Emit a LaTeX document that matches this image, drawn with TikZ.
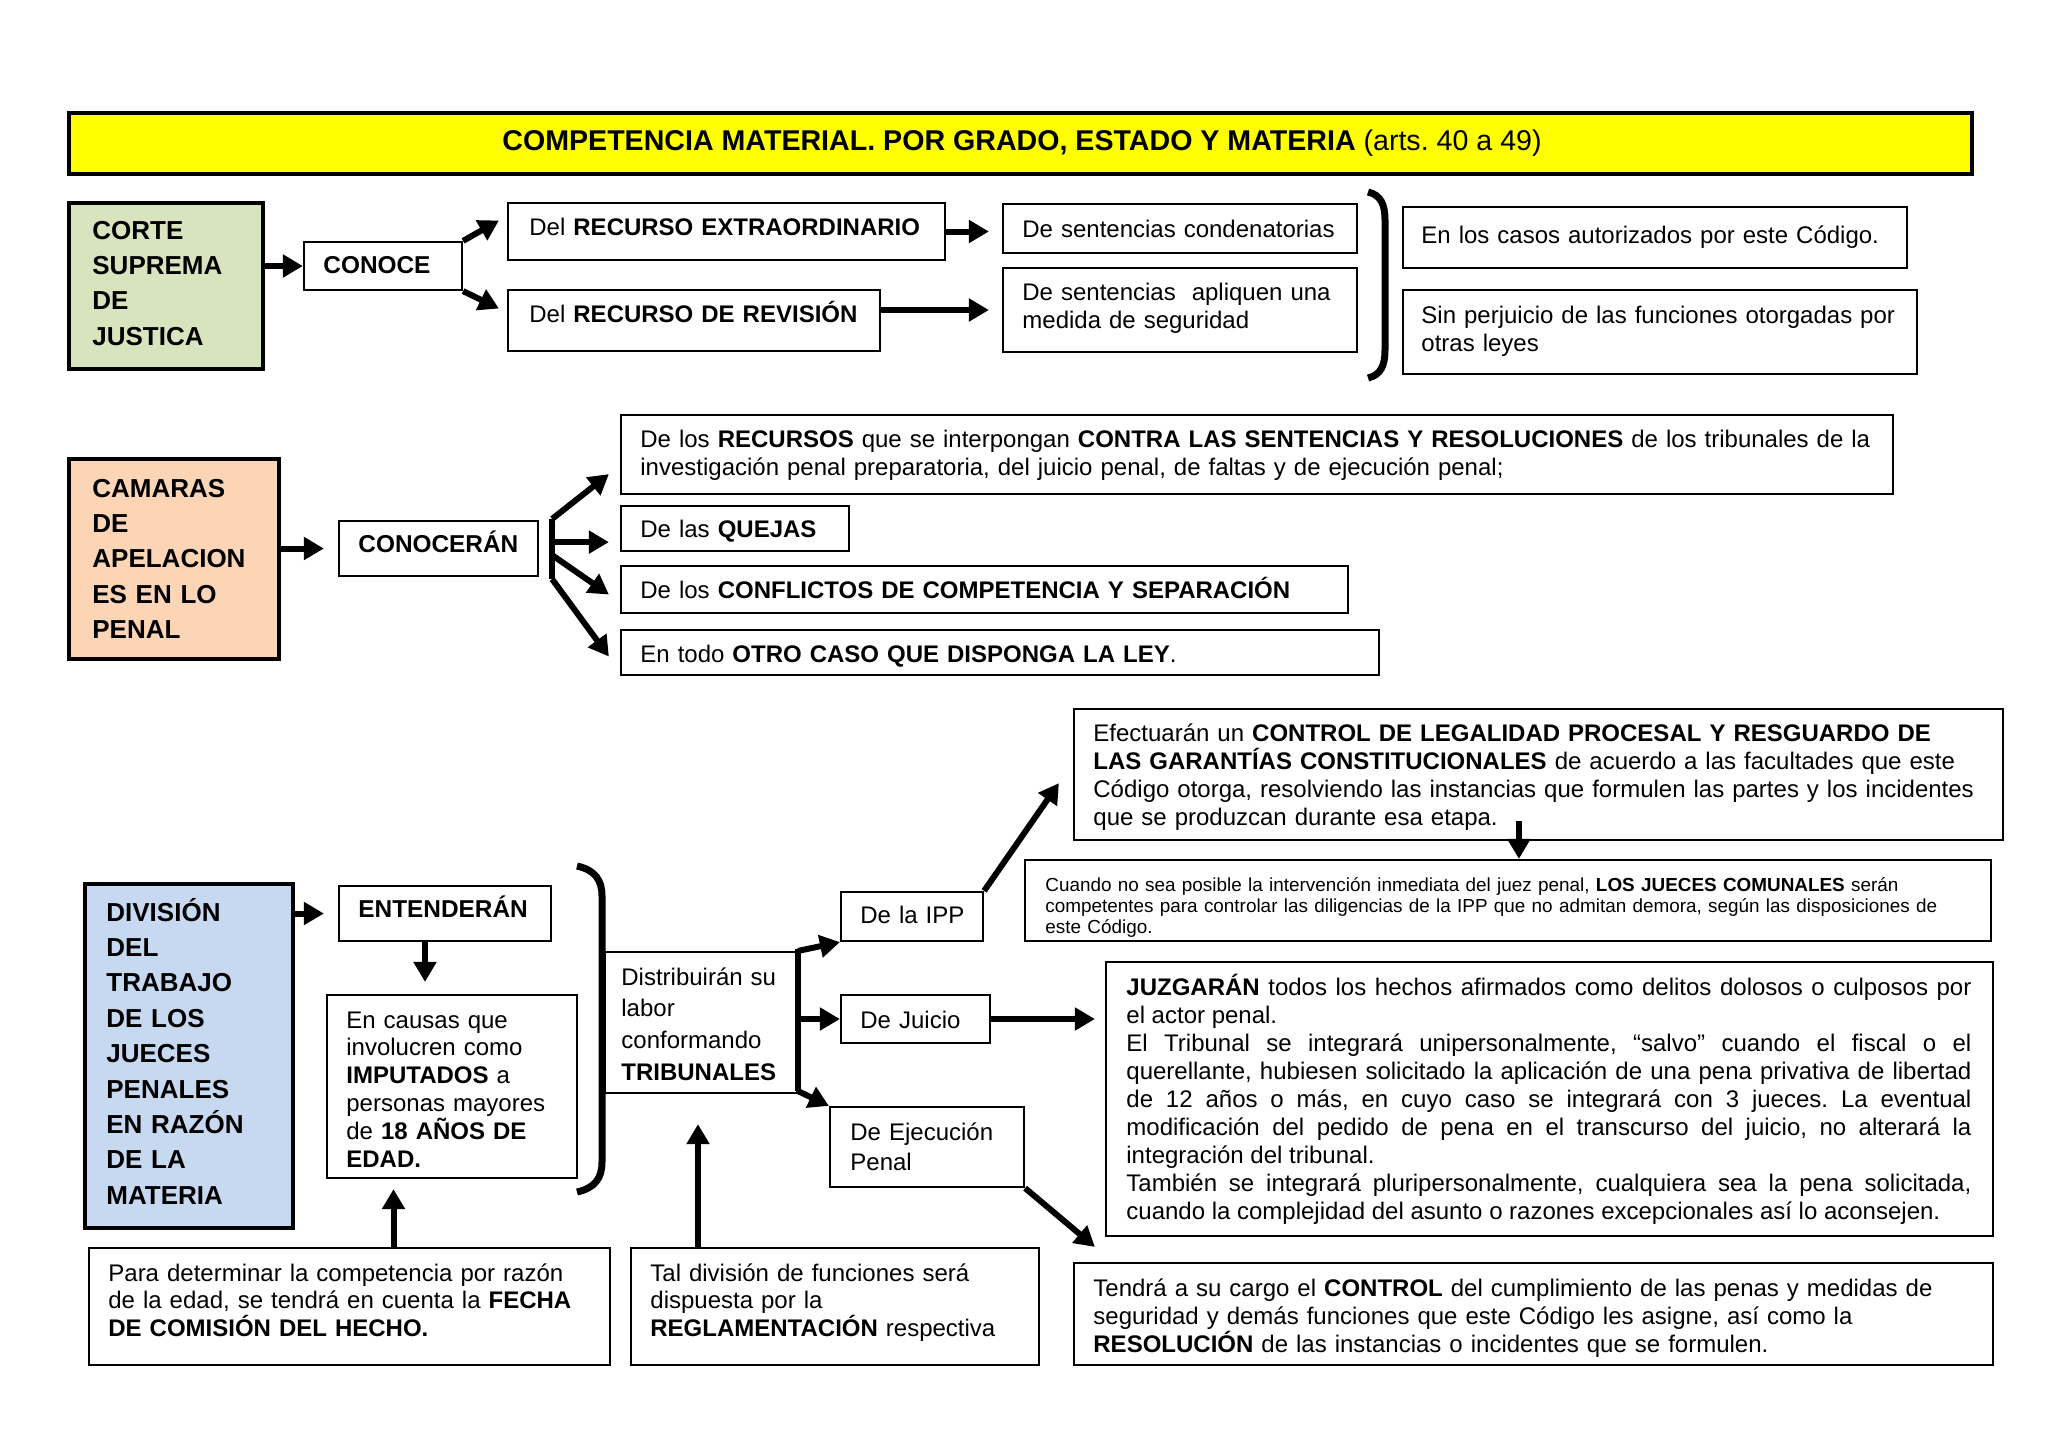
\documentclass[tikz,border=0pt]{standalone}
\usepackage{fontspec}
\setmainfont{Liberation Sans}
\usetikzlibrary{arrows.meta,fit,calc}
\definecolor{ttlyellow}{HTML}{FFFF00}
\definecolor{cgreen}{HTML}{D7E4BD}
\definecolor{cpeach}{HTML}{FBD5B5}
\definecolor{cblue}{HTML}{C6D9F1}
\newcommand\mkbox[6]{\node[#1, fit={(#3,#4) (#5,#6)}] (#2) {};}
\frenchspacing
\begin{document}
\frenchspacing
\begin{tikzpicture}[x=0.5pt,y=-0.5pt,
  bx/.style={draw, line width=1.1pt, inner sep=0pt},
  hbx/.style={draw, line width=2.4pt, inner sep=0pt},
  arr/.style={line width=3pt, -{Triangle[length=10pt,width=11pt]}},
  brk/.style={line width=3.5pt},
  txt/.style={inner sep=0pt, anchor=base west, align=left, text width=500pt, font=\fontsize{12}{14}\selectfont},
  htxt/.style={txt, font=\fontsize{13}{17.7}\selectfont\bfseries},
  btxt/.style={txt, font=\fontsize{12.2}{14}\selectfont\bfseries},
]
\fill[white] (0,0) rectangle (2048,1447);
\useasboundingbox (0,0) rectangle (2048,1447);

% ---------- title ----------
\mkbox{hbx,fill=ttlyellow}{title}{69}{113}{1972}{174}
\node[font=\fontsize{14.3}{16}\selectfont, inner sep=0pt] (titlet) at (1022,143) {\textbf{COMPETENCIA MATERIAL. POR GRADO, ESTADO Y MATERIA} (arts. 40 a 49)};

% ---------- section 1 ----------
\mkbox{hbx,fill=cgreen}{corte}{69}{203}{263}{369}
\mkbox{bx}{conoce}{304}{242}{462}{290}
\mkbox{bx}{extra}{508}{203}{945}{260}
\mkbox{bx}{revis}{508}{290}{880}{351}
\mkbox{bx}{conden}{1003}{204}{1357}{253}
\mkbox{bx}{segur}{1003}{268}{1357}{352}
\mkbox{bx}{casos}{1403}{207}{1907}{268}
\mkbox{bx}{perju}{1403}{290}{1917}{374}

\node[htxt] (cortet) at (92,239) {CORTE\\SUPREMA\\DE\\JUSTICA};
\node[btxt] (conocet) at (323,273) {CONOCE};
\node[txt] (extrat) at (529,235) {Del \textbf{RECURSO EXTRAORDINARIO}};
\node[txt] (revist) at (529,322) {Del \textbf{RECURSO DE REVISIÓN}};
\node[txt] (condent) at (1022,237) {De sentencias condenatorias};
\node[txt] (segurt) at (1022,300) {De sentencias\ \ apliquen una\\medida de seguridad};
\node[txt] (casost) at (1421,243) {En los casos autorizados por este Código.};
\node[txt] (perjut) at (1421,323) {Sin perjuicio de las funciones otorgadas por\\otras leyes};

\draw[brk] (1368,192) .. controls (1381,195) and (1385,205) .. (1385,220) -- (1385,350) .. controls (1385,365) and (1381,375) .. (1368,378);

\draw[arr] (corte.east |- conoce.west) -- (conoce.west);
\draw[arr] (conoce.north east) -- ([shift={(-8,-11)}]extra.west);
\draw[arr] (conoce.south east) -- ([shift={(-8,-12)}]revis.west);
\draw[arr] (extra.east) -- ([shift={(-13,0)}]extra.east -| conden.west);
\draw[arr] (revis.east |- segur.west) -- ([shift={(-13,0)}]segur.west);

% ---------- section 2 ----------
\mkbox{hbx,fill=cpeach}{camaras}{69}{459}{279}{659}
\mkbox{bx}{conoceran}{339}{521}{538}{576}
\mkbox{bx}{recursos}{621}{415}{1893}{494}
\mkbox{bx}{quejas}{621}{506}{849}{551}
\mkbox{bx}{conflictos}{621}{566}{1348}{613}
\mkbox{bx}{otro}{621}{630}{1379}{675}

\node[htxt] (camarast) at (92,497) {CAMARAS\\DE\\APELACION\\ES EN LO\\PENAL};
\node[btxt] (conocerant) at (358,552) {CONOCERÁN};
\node[txt, text width=640pt] (recursost) at (640,447) {De los \textbf{RECURSOS} que se interpongan \textbf{CONTRA LAS SENTENCIAS Y RESOLUCIONES} de los tribunales de la\\investigación penal preparatoria, del juicio penal, de faltas y de ejecución penal;};
\node[txt] (quejast) at (640,537) {De las \textbf{QUEJAS}};
\node[txt] (conflictost) at (640,598) {De los \textbf{CONFLICTOS DE COMPETENCIA Y SEPARACIÓN}};
\node[txt] (otrot) at (640,662) {En todo \textbf{OTRO CASO QUE DISPONGA LA LEY}.};

\draw[arr] (camaras.east |- conoceran.west) -- ([shift={(-14,0)}]conoceran.west);
\coordinate (fanA) at ([shift={(13,-1)}]conoceran.north east);
\coordinate (fanB) at ([shift={(13,2)}]conoceran.south east);
\draw[line width=3pt] (fanA) -- (fanB);
\draw[arr] (fanA) -- ([shift={(-11,-21)}]recursos.south west);
\draw[arr] ([shift={(0,-10)}]fanA |- quejas.south) -- ([shift={(-11,-10)}]quejas.south west);
\draw[arr] ([shift={(0,-24)}]fanB) -- ([shift={(-11,5)}]conflictos.west);
\draw[arr] (fanB) -- ([shift={(-11,4)}]otro.west);

% ---------- section 3 ----------
\mkbox{hbx,fill=cblue}{division}{85}{884}{293}{1228}
\mkbox{bx}{entend}{339}{886}{551}{941}
\mkbox{bx}{causas}{327}{995}{577}{1178}
\mkbox{bx}{distrib}{605}{952}{797}{1093}
\mkbox{bx}{ipp}{841}{892}{983}{941}
\mkbox{bx}{juicio}{841}{995}{990}{1043}
\mkbox{bx}{ejec}{830}{1107}{1024}{1187}
\mkbox{bx}{para}{89}{1248}{610}{1365}
\mkbox{bx}{tal}{631}{1248}{1039}{1365}
\mkbox{bx}{efect}{1074}{709}{2003}{840}
\mkbox{bx}{cuando}{1025}{860}{1991}{941}
\mkbox{bx}{juzg}{1106}{962}{1993}{1236}
\mkbox{bx}{tendra}{1074}{1263}{1993}{1365}

\node[htxt] (divisiont) at (106,921) {DIVISIÓN\\DEL\\TRABAJO\\DE LOS\\JUECES\\PENALES\\EN RAZÓN\\DE LA\\MATERIA};
\node[btxt] (entendt) at (358,917) {ENTENDERÁN};
\node[txt, font=\fontsize{12}{13.9}\selectfont] (causast) at (346,1028) {En causas que\\involucren como\\\textbf{IMPUTADOS} a\\personas mayores\\de \textbf{18 AÑOS DE}\\\textbf{EDAD.}};
\node[txt, font=\fontsize{12}{15.85}\selectfont] (distribt) at (621,985) {Distribuirán su\\labor\\conformando\\\textbf{TRIBUNALES}};
\node[txt] (ippt) at (860,923) {De la IPP};
\node[txt] (juiciot) at (860,1028) {De Juicio};
\node[txt, font=\fontsize{12}{15}\selectfont] (eject) at (850,1140) {De Ejecución\\Penal};
\node[txt, font=\fontsize{12}{13.75}\selectfont] (parat) at (108,1281) {Para determinar la competencia por razón\\de la edad, se tendrá en cuenta la \textbf{FECHA}\\\textbf{DE COMISIÓN DEL HECHO.}};
\node[txt, font=\fontsize{12}{13.75}\selectfont] (talt) at (650,1281) {Tal división de funciones será\\dispuesta por la\\\textbf{REGLAMENTACIÓN} respectiva};
\node[txt] (efectt) at (1093,741) {Efectuarán un \textbf{CONTROL DE LEGALIDAD PROCESAL Y RESGUARDO DE}\\\textbf{LAS GARANTÍAS CONSTITUCIONALES} de acuerdo a las facultades que este\\Código otorga, resolviendo las instancias que formulen las partes y los incidentes\\que se produzcan durante esa etapa.};
\node[txt, font=\fontsize{9.45}{10.6}\selectfont] (cuandot) at (1045,891) {Cuando no sea posible la intervención inmediata del juez penal, \textbf{LOS JUECES COMUNALES} serán\\competentes para controlar las diligencias de la IPP que no admitan demora, según las disposiciones de\\este Código.};
\node[txt, align=justify, text width=422.5pt] (juzgt) at (1126,995) {\parindent=0pt\parskip=0pt\frenchspacing\textbf{JUZGARÁN} todos los hechos afirmados como delitos dolosos o culposos por\linebreak el actor penal.\par
El Tribunal se integrará unipersonalmente, “salvo” cuando el fiscal o el\linebreak querellante, hubiesen solicitado la aplicación de una pena privativa de libertad\linebreak de 12 años o más, en cuyo caso se integrará con 3 jueces. La eventual\linebreak modificación del pedido de pena en el transcurso del juicio, no alterará la\linebreak integración del tribunal.\par
También se integrará pluripersonalmente, cualquiera sea la pena solicitada,\linebreak cuando la complejidad del asunto o razones excepcionales así lo aconsejen.\par};
\node[txt] (tendrat) at (1093,1296) {Tendrá a su cargo el \textbf{CONTROL} del cumplimiento de las penas y medidas de\\seguridad y demás funciones que este Código les asigne, así como la\\\textbf{RESOLUCIÓN} de las instancias o incidentes que se formulen.};

\draw[brk] (577,866) .. controls (595,870) and (602,880) .. (602,896) -- (602,1162) .. controls (602,1178) and (595,1188) .. (577,1192);

\draw[arr] (division.east |- entend.west) -- ([shift={(-14,0)}]entend.west);
\draw[arr] ([shift={(-20,0)}]entend.south) -- ([shift={(-20,-12)}]entend.south |- causas.north);
\draw[arr] ([shift={(44,0)}]para.north) -- ([shift={(44,10)}]para.north |- causas.south);
\draw[arr] ([shift={(-137,0)}]tal.north) -- ([shift={(-137,30)}]tal.north |- distrib.south);
\draw[line width=3pt] ([shift={(0,-2)}]distrib.north east) -- ([shift={(0,-3)}]distrib.south east);
\draw[arr] (distrib.north east) -- (ipp.south west);
\draw[arr] (distrib.east |- juicio.west) -- (juicio.west);
\draw[arr] ([shift={(0,-3)}]distrib.south east) -- (ejec.north west);
\draw[arr] (ipp.north east) -- ([shift={(-14,-58)}]efect.south west);
\coordinate (ec) at ($(efect.south west)+(446,-20)$);
\draw[arr] (ec) -- (ec |- cuando.north);
\draw[arr] (juicio.east) -- ([shift={(-10,0)}]juicio.east -| juzg.west);
\draw[arr] (ejec.south east) -- ([shift={(22,-15)}]tendra.north west);
\end{tikzpicture}
\end{document}
